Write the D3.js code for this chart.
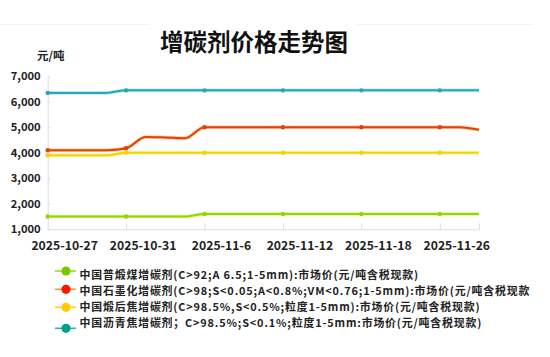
<!DOCTYPE html>
<html><head><meta charset="utf-8">
<script src="https://cdn.jsdelivr.net/npm/d3@7/dist/d3.min.js"></script>
<style>
html,body{margin:0;padding:0;background:#fff;}
svg{display:block;font-family:"Noto Sans CJK SC","Noto Sans",sans-serif;}
</style></head>
<body><svg id="c" width="550" height="357"></svg>
<script>
const title = "增碳剂价格走势图";
const unitLabel = "元/吨";
const tickLabels = ["2025-10-27","2025-10-31","2025-11-6","2025-11-12","2025-11-18","2025-11-26"];
const labelEvery = 4;
const yTicks = [1000,2000,3000,4000,5000,6000,7000];

const seriesNames = [
  "中国普煅煤增碳剂(C>92;A 6.5;1-5mm):市场价(元/吨含税现款)",
  "中国石墨化增碳剂(C>98;S<0.05;A<0.8%;VM<0.76;1-5mm):市场价(元/吨含税现款",
  "中国煅后焦增碳剂(C>98.5%,S<0.5%;粒度1-5mm):市场价(元/吨含税现款)",
  "中国沥青焦增碳剂；C>98.5%;S<0.1%;粒度1-5mm:市场价(元/吨含税现款)"
];
const greenValues  = [1500,1500,1500,1500,1500,1500,1500,1500,1600,1600,1600,1600,1600,1600,1600,1600,1600,1600,1600,1600,1600,1600,1600];
const redValues    = [4100,4100,4100,4100,4180,4620,4600,4570,5000,5000,5000,5000,5000,5000,5000,5000,5000,5000,5000,5000,5000,5000,4900];
const yellowValues = [3900,3900,3900,3900,4000,4000,4000,4000,4000,4000,4000,4000,4000,4000,4000,4000,4000,4000,4000,4000,4000,4000,4000];
const blueValues   = [6350,6350,6350,6350,6450,6450,6450,6450,6450,6450,6450,6450,6450,6450,6450,6450,6450,6450,6450,6450,6450,6450,6450];

const svg = d3.select("#c");
const n = greenValues.length;
const x = d3.scaleLinear().domain([0, n-1]).range([47.7, 479]);
const y = d3.scaleLinear().domain([1000, 7000]).range([229.3, 76.3]);

// faint separators
svg.append("line").attr("x1",0).attr("x2",150).attr("y1",24.5).attr("y2",24.5).attr("stroke","#f3f3f3");
svg.append("line").attr("x1",357).attr("x2",533).attr("y1",24.5).attr("y2",24.5).attr("stroke","#f3f3f3");

// title
svg.append("text").attr("x",254).attr("y",51).attr("text-anchor","middle")
  .attr("font-size",23.5).attr("font-weight","bold").attr("fill","#111").text(title);
svg.append("text").attr("x",37).attr("y",60).attr("font-size",11.5).attr("font-weight","bold").attr("fill","#222").text(unitLabel);

// y axis
const yAxis = d3.axisLeft(y).tickValues(yTicks).tickFormat(d3.format(",")).tickSize(0).tickPadding(7);
const gy = svg.append("g").attr("transform",`translate(${x(0)},0)`).call(yAxis);
gy.select(".domain").attr("stroke","#dcdcdc");
gy.selectAll("text").attr("font-size",11.2).attr("font-weight","bold").attr("fill","#222")
  .attr("font-family","'Noto Sans CJK SC','Noto Sans',sans-serif");
gy.selectAll(".tick").append("line").attr("x1",0).attr("x2",2.5).attr("stroke","#dcdcdc");

// x axis
const tickIdx = tickLabels.map((d,i)=>i*labelEvery);
const xAxis = d3.axisBottom(x).tickValues(tickIdx.concat([n-1])).tickSize(0).tickFormat(()=> "");
const gx = svg.append("g").attr("transform",`translate(0,${y(1000)})`).call(xAxis);
gx.select(".domain").attr("stroke","#dcdcdc");
gx.selectAll(".tick").filter(d=>d>0).append("line").attr("y1",0).attr("y2",-6).attr("stroke","#dcdcdc");
svg.append("g").selectAll("text").data(tickLabels).join("text")
  .attr("x",(d,i)=>x(tickIdx[i]) + 17).attr("y",250)
  .attr("text-anchor","middle").attr("font-size",12.2).attr("font-weight","bold").attr("fill","#222")
  .text(d=>d);

// series
const series = [
  {vals: greenValues,  color:"#96d600", glow:"#c4ec5a", legLine:"#a6d81a", legDot:"#7cc800"},
  {vals: redValues,    color:"#e2400c", glow:"#ff9c3a", legLine:"#f09a3a", legDot:"#ff1500"},
  {vals: yellowValues, color:"#f3d300", glow:"#ffe870", legLine:"#ffd21a", legDot:"#ffcc00"},
  {vals: blueValues,   color:"#27a7bb", glow:"#8fd6e0", legLine:"#3aaabb", legDot:"#00a08e"}
];
const line = d3.line().x((d,i)=>x(i)).y(d=>y(d)).curve(d3.curveMonotoneX);
const gs = svg.append("g");
series.forEach(s=>{
  gs.append("path").attr("d",line(s.vals)).attr("fill","none").attr("stroke",s.glow).attr("stroke-width",3.6).attr("stroke-opacity",0.6);
  gs.append("path").attr("d",line(s.vals)).attr("fill","none").attr("stroke",s.color).attr("stroke-width",2);
  gs.selectAll(null).data(tickIdx).join("circle")
    .attr("cx",i=>x(i)).attr("cy",i=>y(s.vals[i])).attr("r",2.2).attr("fill",s.color);
});

// legend
const legRows = [
  {ty:275, my:271},
  {ty:291.3, my:289.3},
  {ty:307.4, my:307.3},
  {ty:323.5, my:328.3}
];
const gl = svg.append("g");
series.forEach((s,i)=>{
  const r = legRows[i];
  gl.append("line").attr("x1",55).attr("x2",76).attr("y1",r.my).attr("y2",r.my).attr("stroke",s.legLine).attr("stroke-width",1.6);
  gl.append("circle").attr("cx",66).attr("cy",r.my).attr("r",4.6).attr("fill",s.legDot);
  gl.append("text").attr("x",79.5).attr("y",r.ty).attr("dy","0.35em").attr("font-size",10.9)
    .attr("letter-spacing","0.84px").attr("font-weight","bold").attr("fill","#222").text(seriesNames[i]);
});
</script>
</body></html>
